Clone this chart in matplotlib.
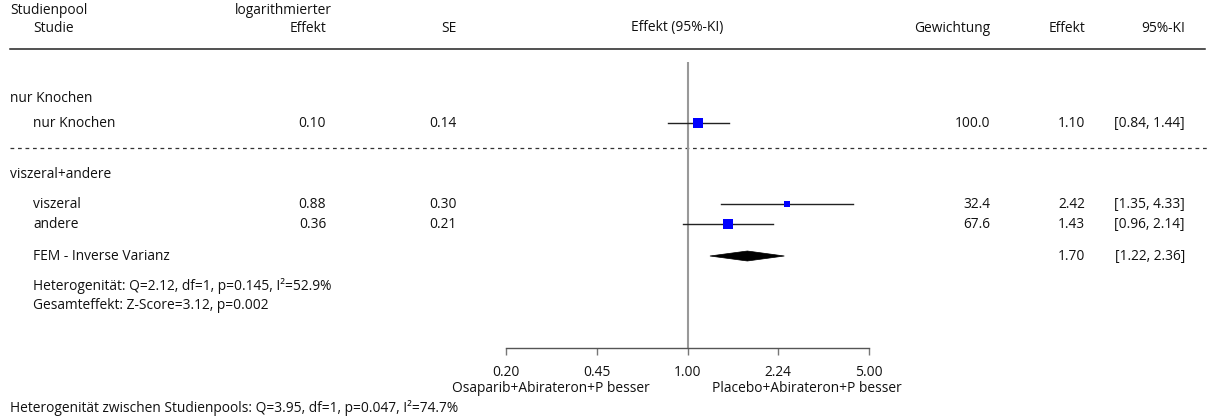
import numpy as np
import matplotlib
matplotlib.use("Agg")
import matplotlib.pyplot as plt
from matplotlib.patches import Polygon

# ---------------- data ----------------
pools = ["nur Knochen", "viszeral+andere"]
studies = ["nur Knochen", "viszeral", "andere"]
study_pool = [0, 1, 1]
log_effect = [0.10, 0.88, 0.36]
se = [0.14, 0.30, 0.21]
weight = [100.0, 32.4, 67.6]
effect = [1.10, 2.42, 1.43]
ci_low = [0.84, 1.35, 0.96]
ci_high = [1.44, 4.33, 2.14]

pooled_label = "FEM - Inverse Varianz"
pooled_effect = 1.70
pooled_low = 1.22
pooled_high = 2.36
pool_hetero = "Heterogenität: Q=2.12, df=1, p=0.145, I²=52.9%"
pool_total = "Gesamteffekt: Z-Score=3.12, p=0.002"
between_hetero = "Heterogenität zwischen Studienpools: Q=3.95, df=1, p=0.047, I²=74.7%"

tick_values = [0.20, 0.447, 1.00, 2.236, 5.00]
tick_labels = ["0.20", "0.45", "1.00", "2.24", "5.00"]
left_label = "Osaparib+Abirateron+P besser"
right_label = "Placebo+Abirateron+P besser"

# ---------------- layout ----------------
W, H = 1215, 419
DPI = 100
plt.rcParams['font.family'] = ['Open Sans', 'DejaVu Sans']
FS = 9.9

fig = plt.figure(figsize=(W / DPI, H / DPI), dpi=DPI)
bg = fig.add_axes([0, 0, 1, 1])
bg.set_xlim(0, W)
bg.set_ylim(H, 0)
bg.axis("off")

def txt(x, y, s, ha="left"):
    bg.text(x, y, s, ha=ha, va="center", fontsize=FS, color="#111111")

# headers
txt(10, 10, "Studienpool")
txt(33, 28, "Studie")
txt(235, 10, "logarithmierter")
txt(326, 28, "Effekt", ha="right")
txt(457, 28, "SE", ha="right")
txt(677, 28, "Effekt (95%-KI)", ha="center")
txt(990, 28, "Gewichtung", ha="right")
txt(1085, 28, "Effekt", ha="right")
txt(1185, 28, "95%-KI", ha="right")
bg.plot([10, 1205], [49, 49], color="#222222", lw=1.1)

# row positions (pixels)
group_y = [98, 174]
study_y = [123, 204, 224]
pooled_y = 256
dash_y = 148

for g, y in zip(pools, group_y):
    txt(10, y, g)
bg.plot([10, 1210], [dash_y, dash_y], color="#333333", lw=0.9, ls=(0, (3, 3)))

for i, s in enumerate(studies):
    y = study_y[i]
    txt(33, y, s)
    txt(326, y, f"{log_effect[i]:.2f}", ha="right")
    txt(457, y, f"{se[i]:.2f}", ha="right")
    txt(990, y, f"{weight[i]:.1f}", ha="right")
    txt(1085, y, f"{effect[i]:.2f}", ha="right")
    txt(1185, y, f"[{ci_low[i]:.2f}, {ci_high[i]:.2f}]", ha="right")

txt(33, pooled_y, pooled_label)
txt(1085, pooled_y, f"{pooled_effect:.2f}", ha="right")
txt(1185, pooled_y, f"[{pooled_low:.2f}, {pooled_high:.2f}]", ha="right")
txt(33, 286, pool_hetero)
txt(33, 305, pool_total)
txt(10, 408, between_hetero)

# ---------------- forest axes ----------------
x0, x1 = 506, 869
ytop, ybot = 62, 348
ax = fig.add_axes([x0 / W, 1 - ybot / H, (x1 - x0) / W, (ybot - ytop) / H])
ax.set_xscale("log")
ax.set_xlim(tick_values[0], tick_values[-1])
ax.set_ylim(ybot, ytop)
ax.patch.set_alpha(0)
for sp in ["top", "right", "left"]:
    ax.spines[sp].set_visible(False)
ax.spines["bottom"].set_color("#555555")
ax.spines["bottom"].set_linewidth(1.0)
ax.set_yticks([])
ax.set_xticks(tick_values)
ax.set_xticklabels(tick_labels)
ax.xaxis.set_minor_locator(matplotlib.ticker.NullLocator())
ax.tick_params(axis="x", direction="out", length=5, width=1.0, color="#777777",
               labelsize=FS, pad=7, labelcolor="#111111")

ax.axvline(1.0, color="#999999", lw=1.5, zorder=1)

# CIs and squares sized by weight within pool
for i in range(len(studies)):
    y = study_y[i]
    ax.plot([ci_low[i], ci_high[i]], [y, y], color="#222222", lw=1.0, zorder=2)
    pool_max = max(w for w, p in zip(weight, study_pool) if p == study_pool[i])
    side = 10 * np.sqrt(weight[i] / pool_max)  # pixels
    ax.plot([effect[i]], [y], marker="s", markersize=side * 72 / DPI,
            color="#0000FF", markeredgewidth=0, zorder=3)

dh = 5
diamond = Polygon([[pooled_low, pooled_y], [pooled_effect, pooled_y - dh],
                   [pooled_high, pooled_y], [pooled_effect, pooled_y + dh]],
                  closed=True, facecolor="black", edgecolor="black", lw=0.5, zorder=3)
ax.add_patch(diamond)

# direction labels
txt(650, 388, left_label, ha="right")
txt(712, 388, right_label, ha="left")

fig.savefig("out.png", dpi=DPI)
